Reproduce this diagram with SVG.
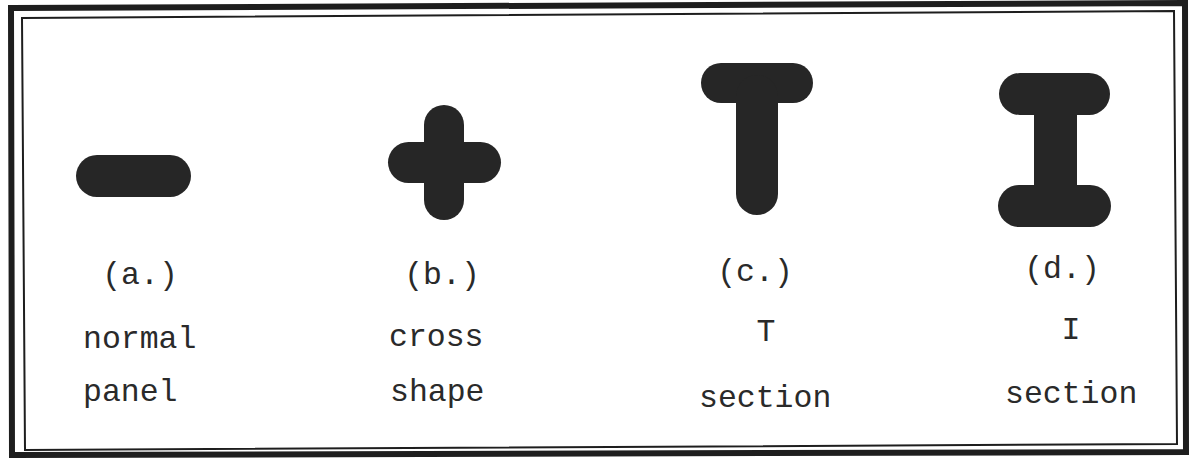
<svg xmlns="http://www.w3.org/2000/svg" width="1189" height="459" viewBox="0 0 1189 459">
<style>
.shape{fill:#262626}
.lbl{font-family:"Liberation Mono","Courier New",monospace;font-size:31.5px;fill:#2a2a2a}
.mid{text-anchor:middle}
</style>
<rect width="1189" height="459" fill="#ffffff"/>
<g id="frame" fill="none" stroke="#1e1e1e">
<polygon points="11,8 1185,3 1186,452 12,455" stroke-width="6"/>
<polygon points="22,18 1174,11 1177,444 25,450" stroke-width="2"/>
</g>
<g id="connectors"></g>
<g id="node-a">
<rect class="shape" x="76" y="155" width="115" height="42" rx="21"/>
<text class="lbl mid" x="140" y="284">(a.)</text>
<text class="lbl" x="83" y="348">normal</text>
<text class="lbl" x="83" y="401">panel</text>
</g>
<g id="node-b">
<rect class="shape" x="388" y="142" width="113" height="41" rx="20.5"/>
<rect class="shape" x="424" y="105" width="40" height="115" rx="20"/>
<text class="lbl mid" x="442" y="284">(b.)</text>
<text class="lbl" x="389" y="346">cross</text>
<text class="lbl" x="390" y="401">shape</text>
</g>
<g id="node-c">
<rect class="shape" x="701" y="63" width="112" height="40" rx="20"/>
<rect class="shape" x="736" y="75" width="42" height="140" rx="21"/>
<text class="lbl mid" x="755" y="281">(c.)</text>
<text class="lbl mid" x="766" y="341">T</text>
<text class="lbl" x="699" y="407">section</text>
</g>
<g id="node-d">
<rect class="shape" x="999" y="73" width="111" height="42" rx="21"/>
<rect class="shape" x="1034" y="95" width="43" height="110"/>
<rect class="shape" x="998" y="185" width="113" height="42" rx="21"/>
<text class="lbl mid" x="1062" y="278">(d.)</text>
<text class="lbl mid" x="1071" y="339">I</text>
<text class="lbl" x="1005" y="403">section</text>
</g>
</svg>
